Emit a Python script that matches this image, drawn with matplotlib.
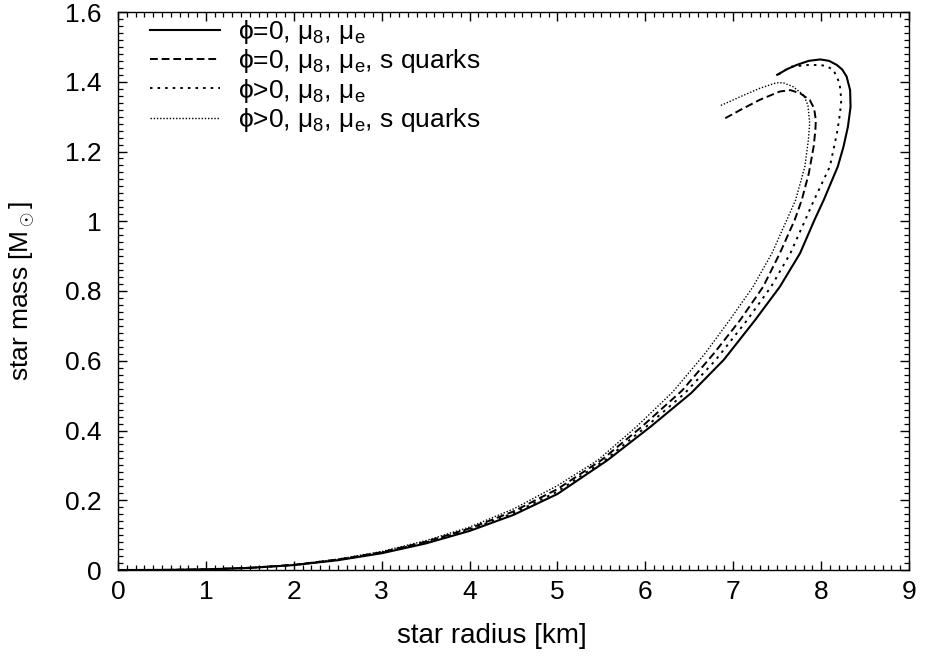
import matplotlib
matplotlib.use("Agg")
import matplotlib.pyplot as plt
from matplotlib.ticker import MultipleLocator

plt.rcParams['font.family'] = ['Liberation Sans', 'DejaVu Sans']
plt.rcParams['mathtext.fontset'] = 'custom'
plt.rcParams['mathtext.rm'] = 'Liberation Sans'
plt.rcParams['mathtext.it'] = 'Liberation Sans'
plt.rcParams['mathtext.sf'] = 'Liberation Sans'

# ---- data ----
r_phi0 = [0, 0.5, 1.0, 1.5, 2.0, 2.5, 3.0, 3.5, 4.0, 4.5, 5.0, 5.5, 5.57, 6.06,
          6.52, 6.89, 6.95, 7.25, 7.53, 7.76, 7.925, 8.03, 8.19, 8.255, 8.305,
          8.335, 8.33, 8.29, 8.24, 8.18, 8.09, 7.99, 7.86, 7.72, 7.62, 7.50]
m_phi0 = [0, 0.0002, 0.0017, 0.006, 0.014, 0.028, 0.048, 0.076, 0.112, 0.158, 0.218,
          0.303, 0.315, 0.411, 0.507, 0.602, 0.621, 0.717, 0.812, 0.908, 1.004,
          1.061, 1.157, 1.214, 1.271, 1.328, 1.376, 1.415, 1.435, 1.448, 1.460,
          1.464, 1.460, 1.448, 1.437, 1.420]

r_phi0_s = [0, 0.5, 1.0, 1.5, 2.0, 2.5, 3.0, 3.5, 4.0, 4.5, 5.0, 5.50, 5.96, 6.42,
            6.78, 7.08, 7.34, 7.53, 7.70, 7.78, 7.86, 7.915, 7.935, 7.94, 7.92, 7.87,
            7.76, 7.65, 7.53, 7.30, 7.08, 6.87]
m_phi0_s = [0, 0.0002, 0.0018, 0.0063, 0.0148, 0.030, 0.051, 0.081, 0.119, 0.168,
            0.232, 0.315, 0.411, 0.515, 0.621, 0.717, 0.812, 0.908, 1.004, 1.061,
            1.137, 1.214, 1.262, 1.290, 1.324, 1.348, 1.367, 1.376, 1.372, 1.348,
            1.319, 1.290]

r_phip = [0, 0.5, 1.0, 1.5, 2.0, 2.5, 3.0, 3.5, 4.0, 4.5, 5.0, 5.54, 6.01, 6.45,
          6.80, 7.16, 7.43, 7.65, 7.82, 7.92, 8.10, 8.18, 8.215, 8.23, 8.21, 8.14,
          8.06, 7.99, 7.85, 7.65, 7.48]
m_phip = [0, 0.0002, 0.0018, 0.0062, 0.0145, 0.029, 0.050, 0.079, 0.116, 0.163,
          0.225, 0.315, 0.411, 0.507, 0.602, 0.717, 0.812, 0.908, 1.004, 1.061,
          1.157, 1.252, 1.309, 1.348, 1.396, 1.434, 1.445, 1.448, 1.448, 1.443, 1.415]

r_phip_s = [0, 0.5, 1.0, 1.5, 2.0, 2.5, 3.0, 3.5, 4.0, 4.5, 5.0, 5.46, 5.90, 6.31,
            6.68, 6.96, 7.225, 7.44, 7.61, 7.71, 7.815, 7.855, 7.87, 7.85, 7.80, 7.68,
            7.57, 7.49, 7.30, 7.08, 6.85]
m_phip_s = [0, 0.0002, 0.0019, 0.0065, 0.015, 0.031, 0.053, 0.084, 0.123, 0.175,
            0.242, 0.315, 0.411, 0.510, 0.621, 0.717, 0.812, 0.908, 1.004, 1.061,
            1.157, 1.233, 1.281, 1.333, 1.362, 1.386, 1.397, 1.397, 1.381, 1.357, 1.331]

labels = [r'ϕ=0, μ$_8$, μ$_\mathrm{e}$',
          r'ϕ=0, μ$_8$, μ$_\mathrm{e}$, s quarks',
          r'ϕ>0, μ$_8$, μ$_\mathrm{e}$',
          r'ϕ>0, μ$_8$, μ$_\mathrm{e}$, s quarks']

x_ticks = [0, 1, 2, 3, 4, 5, 6, 7, 8, 9]
y_ticks = [0, 0.2, 0.4, 0.6, 0.8, 1.0, 1.2, 1.4, 1.6]
y_ticklabels = ['0', '0.2', '0.4', '0.6', '0.8', '1', '1.2', '1.4', '1.6']

FS = 19

fig = plt.figure(figsize=(9.25, 6.58), dpi=100)
ax = fig.add_axes([118/925, 1 - 570/658, (909-118)/925, (570-12)/658])

ax.plot(r_phi0, m_phi0, color='black', lw=1.5, ls='-', label=labels[0])
ax.plot(r_phi0_s, m_phi0_s, color='black', lw=1.4, ls=(0, (4, 2)), label=labels[1])
ax.plot(r_phip, m_phip, color='black', lw=1.4, ls=(0, (1.3, 2.6)), label=labels[2])
ax.plot(r_phip_s, m_phip_s, color='black', lw=1.0, ls=(0, (1, 1.3)), label=labels[3])

ax.set_xlim(0, 9)
ax.set_ylim(0, 1.6)
ax.set_xticks(x_ticks)
ax.set_yticks(y_ticks)
ax.set_yticklabels(y_ticklabels)
ax.xaxis.set_minor_locator(MultipleLocator(0.1))
ax.yaxis.set_minor_locator(MultipleLocator(0.02))
ax.tick_params(which='both', direction='in', top=True, right=True, width=1)
ax.tick_params(which='major', length=6.5, labelsize=FS)
ax.tick_params(axis='x', which='major', pad=7)
ax.tick_params(axis='y', which='major', pad=12)
ax.tick_params(which='minor', length=3.5, width=0.9)
for s in ax.spines.values():
    s.set_linewidth(1.0)

ax.set_xlabel('star radius [km]', fontsize=20)
ax.xaxis.set_label_coords(0.473, -0.095)
ax.set_ylabel(r'star mass [M$_\odot$]', fontsize=FS)
ax.yaxis.set_label_coords(-0.103, 0.5)

leg = ax.legend(loc='upper left', frameon=False, fontsize=FS,
                handlelength=2.65, handletextpad=0.68, labelspacing=0.05,
                borderaxespad=0.0, borderpad=0.0, bbox_to_anchor=(0.0405, 0.9894))

fig.savefig('out.png', dpi=100)
